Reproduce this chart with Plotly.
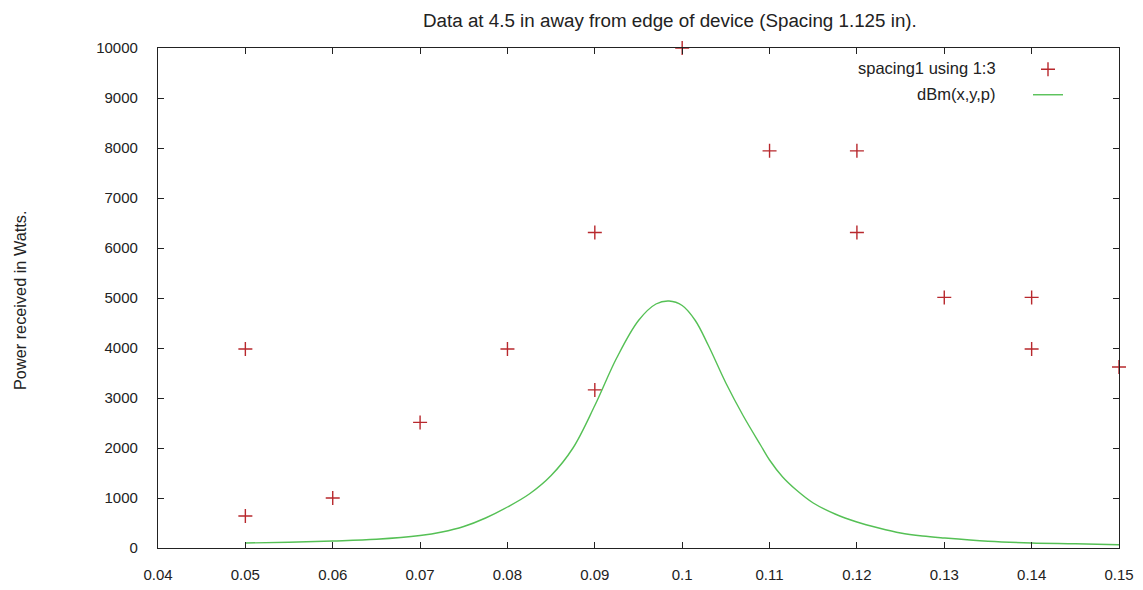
import plotly.graph_objects as go

# Measured data points (spacing1 using 1:3)
pts_x = [0.05, 0.05, 0.06, 0.07, 0.08, 0.09, 0.09, 0.10, 0.11, 0.12, 0.12, 0.13, 0.14, 0.14, 0.15]
pts_y = [3981, 640, 1000, 2512, 3981, 6310, 3162, 10000, 7943, 7943, 6310, 5012, 5012, 3981, 3620]

# Model curve dBm(x,y,p)
crv_x = [0.050, 0.055, 0.060, 0.065, 0.070, 0.0725, 0.075, 0.0775, 0.080, 0.0825, 0.085,
         0.0875, 0.090, 0.0925, 0.095, 0.097, 0.0985, 0.100, 0.1015, 0.103, 0.105, 0.107,
         0.109, 0.110, 0.1115, 0.113, 0.115, 0.1175, 0.120, 0.1225, 0.125, 0.1275, 0.130,
         0.135, 0.140, 0.145, 0.150]
crv_y = [100, 115, 140, 175, 250, 320, 430, 600, 820, 1080, 1450,
         2000, 2850, 3800, 4550, 4880, 4940, 4850, 4550, 4050, 3300, 2640,
         2050, 1760, 1420, 1170, 900, 680, 520, 400, 300, 240, 200,
         135, 100, 85, 65]

x_ticks = [0.04, 0.05, 0.06, 0.07, 0.08, 0.09, 0.10, 0.11, 0.12, 0.13, 0.14, 0.15]
x_tick_text = ["0.04", "0.05", "0.06", "0.07", "0.08", "0.09", "0.1", "0.11", "0.12", "0.13", "0.14", "0.15"]
y_ticks = [0, 1000, 2000, 3000, 4000, 5000, 6000, 7000, 8000, 9000, 10000]
y_tick_text = ["0", "1000", "2000", "3000", "4000", "5000", "6000", "7000", "8000", "9000", "10000"]

title_text = "Data at 4.5 in away from edge of device (Spacing 1.125 in)."
y_title = "Power received in Watts."
legend_names = ["spacing1 using 1:3", "dBm(x,y,p)"]

FONT = "Liberation Sans, Arial, sans-serif"
INK = "#222222"
RED = "#b8282d"
GREEN = "#55c055"

fig = go.Figure()
fig.add_trace(go.Scatter(
    x=pts_x, y=pts_y, mode="markers", name=" ",
    marker=dict(symbol="cross-thin", size=10, line=dict(color=RED, width=1.4), color=RED),
    legendgroup="a", cliponaxis=False,
))
fig.add_trace(go.Scatter(
    x=crv_x, y=crv_y, mode="lines", name=" ", line_shape="spline",
    line=dict(color=GREEN, width=1.4), legendgroup="b",
))

axis_common = dict(
    showline=True, linecolor=INK, linewidth=1.2, mirror="ticks",
    ticks="inside", ticklen=6, tickcolor=INK, tickwidth=1,
    showgrid=False, zeroline=False, automargin=False,
    tickfont=dict(family=FONT, size=15, color=INK),
)

fig.update_xaxes(range=[0.04, 0.15], tickvals=x_ticks, ticktext=x_tick_text,
                 ticklabelstandoff=13, **axis_common)
fig.update_yaxes(range=[0, 10000], tickvals=y_ticks, ticktext=y_tick_text,
                 ticklabelstandoff=16, **axis_common)

# page has an 8px body margin; target plot box on page: x 158..1119, y 48..548
OFF = 8
W, H = 1143 - 2 * OFF, 590 - 2 * OFF
L, T = 158 - OFF, 48 - OFF
R = W - (1119 - OFF)
B = H - (548 - OFF)
pw, ph = W - L - R, H - T - B

def px2paper_x(px):
    return (px - OFF - L) / pw

def px2paper_y(py):
    return (H - B - (py - OFF)) / ph

annotations = [
    dict(text=title_text, xref="paper", yref="paper", x=px2paper_x(670), y=px2paper_y(8),
         showarrow=False, xanchor="center", yanchor="top",
         font=dict(family=FONT, size=18.8, color=INK)),
    dict(text=y_title, xref="paper", yref="paper", x=px2paper_x(20), y=px2paper_y(301),
         showarrow=False, textangle=-90, xanchor="center", yanchor="middle",
         font=dict(family=FONT, size=16.3, color=INK)),
    dict(text=legend_names[0], xref="paper", yref="paper", x=px2paper_x(998), y=px2paper_y(68),
         showarrow=False, xanchor="right", yanchor="middle",
         font=dict(family=FONT, size=16.5, color=INK)),
    dict(text=legend_names[1], xref="paper", yref="paper", x=px2paper_x(998), y=px2paper_y(94),
         showarrow=False, xanchor="right", yanchor="middle",
         font=dict(family=FONT, size=16.5, color=INK)),
]

fig.update_layout(
    width=W, height=H,
    margin=dict(l=L, r=R, t=T, b=B, autoexpand=False),
    paper_bgcolor="white", plot_bgcolor="white",
    showlegend=True,
    legend=dict(x=px2paper_x(1028), y=px2paper_y(53), xanchor="left", yanchor="top",
                bgcolor="rgba(0,0,0,0)", borderwidth=0, tracegroupgap=3,
                font=dict(family=FONT, size=15), itemwidth=30),
    annotations=annotations,
)

fig.write_html("out.html")
